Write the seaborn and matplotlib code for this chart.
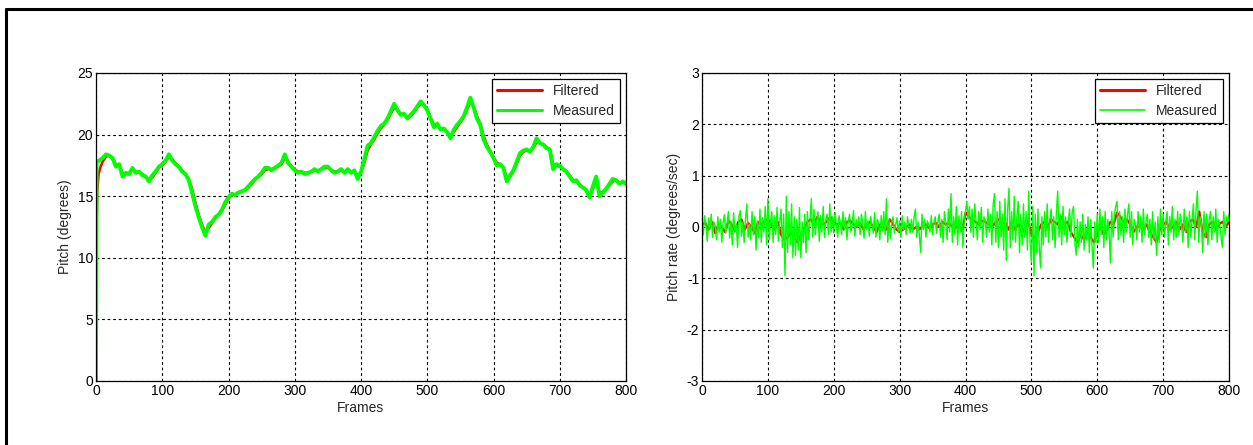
import numpy as np
import matplotlib
matplotlib.use("Agg")
import matplotlib.pyplot as plt
from matplotlib.lines import Line2D
import seaborn as sns

# ---------------- data ----------------
# Pitch (degrees)
pitch_meas_head_frames = [0, 1]
pitch_meas_head = [0.0, 17.8]
pitch_step_frames = np.arange(5, 801, 5)
pitch_measured = [
    17.9, 18.1, 18.4, 18.3, 18.1, 17.4, 17.6, 16.6, 16.9, 16.8, 17.3, 16.9, 17.0, 16.7, 16.6, 16.2, 16.7, 17.0, 17.4,
    17.6, 17.9, 18.4, 17.9, 17.6, 17.4, 17.0, 16.8, 16.3, 15.3, 14.2, 13.3, 12.5, 11.8, 12.7, 12.9, 13.3, 13.5, 13.9, 14.5,
    14.9, 15.2, 15.1, 15.3, 15.4, 15.5, 15.8, 16.1, 16.4, 16.6, 16.9, 17.3, 17.3, 17.1, 17.3, 17.5, 17.7, 18.4, 17.7, 17.4,
    17.1, 16.9, 17.0, 16.8, 16.9, 17.0, 17.2, 17.0, 17.2, 17.4, 17.4, 17.1, 16.9, 17.0, 17.2, 16.9, 17.2, 16.9, 17.1, 16.4,
    17.0, 18.0, 19.1, 19.3, 19.8, 20.3, 20.7, 20.9, 21.3, 21.9, 22.5, 22.0, 21.6, 21.7, 21.3, 21.6, 21.9, 22.3, 22.7, 22.4,
    22.0, 21.3, 20.6, 20.9, 20.4, 20.5, 20.2, 19.7, 20.4, 20.8, 21.1, 21.5, 22.2, 23.0, 22.2, 21.3, 20.8, 19.6, 19.0, 18.6,
    18.1, 17.5, 17.6, 17.3, 16.2, 16.7, 17.1, 17.8, 18.5, 18.7, 18.8, 18.6, 19.0, 19.7, 19.3, 19.2, 18.9, 18.8, 17.2, 17.6,
    17.5, 17.2, 17.0, 16.6, 16.2, 16.3, 15.9, 15.7, 15.5, 14.9, 15.8, 16.6, 15.0, 15.3, 15.6, 16.0, 16.4, 16.3, 16.0, 16.2,
    16.0,
]
pitch_filt_head_frames = [0, 1, 2, 4, 7, 10]
pitch_filt_head = [9.2, 13.0, 15.5, 16.8, 17.4, 17.8]
pitch_filt_frames = np.arange(15, 801, 5)
pitch_filtered = [
    18.2, 18.3, 18.1, 17.6, 17.4, 16.9, 16.8, 16.8, 17.1, 17.0, 16.9, 16.8, 16.6, 16.3, 16.5, 16.9, 17.3,
    17.5, 17.8, 18.2, 18.0, 17.7, 17.4, 17.1, 16.8, 16.4, 15.6, 14.5, 13.5, 12.7, 12.1, 12.4, 12.8, 13.2, 13.5, 13.8, 14.3,
    14.8, 15.1, 15.1, 15.3, 15.4, 15.5, 15.7, 16.0, 16.3, 16.6, 16.8, 17.1, 17.2, 17.2, 17.3, 17.4, 17.6, 18.1, 17.8, 17.4,
    17.2, 17.0, 17.0, 16.9, 16.9, 17.0, 17.1, 17.1, 17.2, 17.3, 17.3, 17.1, 17.0, 17.0, 17.1, 17.0, 17.1, 17.0, 17.0, 16.7,
    16.9, 17.7, 18.7, 19.2, 19.6, 20.1, 20.5, 20.8, 21.2, 21.7, 22.2, 22.0, 21.7, 21.6, 21.4, 21.5, 21.8, 22.2, 22.5, 22.4,
    22.0, 21.4, 20.8, 20.8, 20.5, 20.4, 20.2, 19.9, 20.2, 20.6, 21.0, 21.4, 22.0, 22.7, 22.3, 21.5, 20.9, 19.9, 19.2, 18.7,
    18.2, 17.7, 17.6, 17.3, 16.5, 16.6, 17.0, 17.6, 18.3, 18.6, 18.7, 18.7, 18.9, 19.4, 19.3, 19.2, 19.0, 18.8, 17.6, 17.5,
    17.4, 17.2, 17.0, 16.7, 16.3, 16.2, 15.9, 15.7, 15.5, 15.1, 15.6, 16.3, 15.3, 15.3, 15.6, 15.9, 16.2, 16.3, 16.1, 16.1,
    16.0,
]

# Pitch rate (degrees/sec)
rate_meas_frames = np.arange(0, 801, 2)
rate_measured = [
    0.12, -0.15, 0.22, 0.05, -0.28, 0.18, -0.05, 0.25, -0.2, 0.1, 0.02, -0.25, 0.2, -0.1, 0.15, -0.3, 0.08, 0.24, -0.12, 0.05,
    0.3, -0.22, 0.12, -0.35, 0.28, -0.1, 0.05, -0.4, 0.2, 0.32, -0.18, 0.1, -0.3, 0.15, 0.45, -0.2, 0.05, -0.25, 0.3, -0.15,
    0.2, -0.45, 0.12, -0.2, 0.35, -0.3, 0.18, -0.1, 0.4, -0.35, 0.55, -0.25, 0.1, 0.3, -0.3, 0.22, -0.15, 0.38, -0.28, 0.1,
    0.35, -0.4, 0.25, -0.95, 0.6, -0.5, 0.3, -0.35, 0.45, -0.6, 0.2, -0.55, 0.15, -0.45, 0.38, -0.6, 0.1, -0.3, 0.25, -0.5,
    0.3, -0.25, 0.12, 0.55, -0.2, 0.35, -0.15, 0.1, 0.3, -0.28, 0.22, -0.1, 0.4, -0.2, 0.15, 0.25, -0.15, 0.45, -0.1, 0.2,
    -0.12, 0.28, 0.05, -0.2, 0.22, 0.1, -0.15, 0.3, -0.05, 0.18, -0.25, 0.12, 0.25, -0.1, 0.05, 0.32, -0.18, 0.15, 0.0, 0.2,
    -0.15, 0.25, 0.08, -0.22, 0.3, -0.05, 0.12, -0.18, 0.2, 0.05, -0.12, 0.28, -0.2, 0.15, 0.1, -0.25, 0.22, -0.08, 0.3, -0.15,
    0.55, -0.3, 0.15, -0.22, 0.1, 0.2, -0.12, 0.05, 0.18, -0.1, 0.12, -0.2, 0.22, -0.05, 0.1, -0.15, 0.2, 0.02, -0.12, 0.15,
    -0.1, 0.2, 0.35, -0.2, 0.1, -0.15, -0.5, 0.25, -0.05, 0.15, -0.2, 0.12, 0.05, -0.1, 0.22, -0.15, 0.08, 0.2, -0.12, 0.1,
    0.25, -0.2, 0.15, -0.3, 0.3, 0.1, -0.25, 0.35, -0.1, 0.65, -0.3, 0.2, -0.15, 0.4, -0.35, 0.22, -0.1, 0.3, -0.4, 0.15,
    0.3, 0.5, 0.15, 0.4, -0.1, 0.35, -0.2, 0.45, 0.1, -0.25, 0.3, -0.05, 0.38, -0.3, 0.2, 0.12, -0.2, 0.35, -0.1, 0.25,
    -0.35, 0.45, 0.65, -0.3, 0.3, -0.4, 0.5, -0.2, 0.25, -0.45, 0.55, -0.65, 0.35, 0.75, -0.4, 0.3, -0.25, 0.6, -0.3, 0.2,
    0.5, -0.5, 0.25, -0.35, 0.45, -0.2, 0.3, -0.45, 0.7, -0.3, -0.7, 0.4, -0.95, 0.25, -0.5, 0.35, -0.4, -0.8, 0.2, -0.35,
    0.3, -0.2, 0.45, -0.3, 0.15, 0.35, -0.25, 0.2, -0.4, 0.3, 0.7, -0.2, 0.25, -0.35, 0.4, -0.15, 0.2, -0.3, 0.1, 0.35,
    -0.2, 0.3, 0.4, -0.3, -0.55, 0.15, -0.4, 0.1, -0.3, 0.25, -0.45, 0.05, -0.25, 0.2, -0.5, 0.15, -0.35, -0.8, 0.1, -0.3,
    0.25, -0.3, 0.35, -0.15, 0.2, -0.4, 0.3, -0.25, 0.15, -0.1, -0.7, 0.3, -0.2, 0.25, 0.4, 0.5, -0.25, 0.3, -0.15, 0.2,
    -0.3, 0.35, -0.1, 0.25, 0.45, -0.2, 0.3, -0.35, 0.15, 0.05, -0.25, 0.3, -0.1, 0.2, -0.3, 0.35, -0.15, 0.1, 0.25, -0.2,
    0.15, -0.35, 0.3, -0.25, 0.1, -0.55, 0.2, -0.3, 0.35, -0.15, 0.25, -0.2, 0.1, 0.3, -0.35, 0.2, -0.1, 0.4, -0.25, 0.15,
    -0.2, 0.3, -0.15, 0.25, 0.05, -0.3, 0.35, -0.1, 0.2, -0.4, 0.3, -0.2, 0.15, 0.45, -0.25, 0.35, 0.7, -0.3, 0.2, 0.1,
    -0.5, 0.3, -0.2, 0.25, -0.35, 0.15, 0.3, -0.25, 0.2, -0.1, 0.35, -0.3, 0.15, 0.05, -0.2, -0.4, 0.3, -0.15, 0.2, 0.1,
    0.25,
]
rate_filt_frames = np.arange(0, 801, 5)
rate_filtered = [
    0.05, 0.08, -0.05, 0.1, -0.12, 0.05, 0.0, -0.1, 0.12, 0.05, -0.08, 0.1, 0.15, -0.05, 0.08, 0.0, -0.12, 0.1, 0.05, 0.12,
    0.15, 0.05, -0.05, 0.1, -0.15, -0.25, -0.2, -0.1, -0.2, -0.3, -0.15, -0.05, 0.1, 0.15, 0.05, 0.2, 0.1, 0.05, 0.12, 0.2,
    0.1, 0.05, 0.08, -0.05, 0.1, 0.12, 0.05, 0.0, 0.08, -0.05, 0.05, 0.1, 0.0, -0.1, 0.05, 0.0, -0.05, 0.15, 0.05, -0.05,
    -0.1, -0.05, 0.0, 0.05, -0.05, 0.0, -0.05, 0.02, 0.05, -0.02, 0.05, 0.08, 0.0, 0.1, 0.05, 0.08, 0.0, -0.02, 0.05, -0.08,
    0.28, 0.2, 0.15, 0.1, 0.05, 0.12, 0.1, 0.05, 0.0, 0.08, 0.15, 0.05, 0.1, -0.05, 0.1, -0.05, 0.05, 0.0, -0.1, 0.12,
    -0.15, -0.2, -0.1, 0.05, 0.1, 0.0, 0.15, 0.1, 0.05, 0.2, 0.05, 0.1, -0.1, -0.2, -0.3, -0.15, -0.25, -0.1, -0.2, -0.3,
    -0.1, 0.0, -0.15, -0.05, 0.1, 0.05, 0.28, 0.2, 0.1, 0.15, 0.05, -0.1, 0.0, 0.08, -0.05, 0.05, -0.1, -0.2, -0.3, -0.05,
    0.05, 0.1, -0.05, 0.0, 0.1, -0.05, 0.05, -0.1, 0.1, 0.15, 0.0, 0.3, -0.1, -0.2, 0.05, 0.1, -0.05, 0.05, 0.1, 0.0,
    0.1,
]

x_ticks = [0, 100, 200, 300, 400, 500, 600, 700, 800]
pitch_ticks = [0, 5, 10, 15, 20, 25]
rate_ticks = [-3, -2, -1, 0, 1, 2, 3]

# ---------------- style ----------------
sns.set_style("white")
plt.rcParams['font.family'] = ['Liberation Sans', 'DejaVu Sans']
plt.rcParams['axes.unicode_minus'] = False

RED = "#ff0000"
GREEN = "#00ff00"
FS = 10

fig = plt.figure(figsize=(12.53, 4.45), dpi=100)
W, H = 1253, 445
ax1 = fig.add_axes([96 / W, (H - 381) / H, (626 - 96) / W, (381 - 73) / H])
ax2 = fig.add_axes([702 / W, (H - 381) / H, (1229 - 702) / W, (381 - 73) / H])

# Left: pitch
pf_x = np.concatenate([pitch_filt_head_frames, pitch_filt_frames])
pf_y = np.concatenate([pitch_filt_head, pitch_filtered])
pm_x = np.concatenate([pitch_meas_head_frames, pitch_step_frames])
pm_y = np.concatenate([pitch_meas_head, pitch_measured])
sns.lineplot(x=pf_x, y=pf_y, ax=ax1, color=RED, lw=1.8, label="Filtered", sort=False, estimator=None)
sns.lineplot(x=pm_x, y=pm_y, ax=ax1, color=GREEN, lw=2.8, label="Measured", sort=False, estimator=None)

# Right: pitch rate
sns.lineplot(x=rate_filt_frames, y=rate_filtered, ax=ax2, color=RED, lw=1.6, label="Filtered", sort=False, estimator=None)
sns.lineplot(x=rate_meas_frames, y=rate_measured, ax=ax2, color=GREEN, lw=1.0, label="Measured", sort=False, estimator=None)

legend_lw = {ax1: [2.2, 2.2], ax2: [2.2, 1.2]}
for ax, yt, ylab in [(ax1, pitch_ticks, "Pitch (degrees)"), (ax2, rate_ticks, "Pitch rate (degrees/sec)")]:
    ax.set_xlim(0, 800)
    ax.set_ylim(yt[0], yt[-1])
    ax.set_xticks(x_ticks)
    ax.set_yticks(yt)
    ax.tick_params(axis="both", labelsize=FS, direction="in", length=3, pad=2, colors="black")
    ax.grid(True, color="black", linestyle=(0, (2.5, 2.5)), lw=0.8)
    for s in ax.spines.values():
        s.set_visible(True)
        s.set_color("black")
        s.set_linewidth(0.9)
    ax.set_xlabel("Frames", fontsize=FS, labelpad=2)
    ax.set_ylabel(ylab, fontsize=FS, labelpad=4)
    leg = ax.legend(loc="upper right", fontsize=FS, fancybox=False, framealpha=1,
                    edgecolor="black", handlelength=3.2, borderpad=0.4, labelspacing=0.4,
                    borderaxespad=0.4)
    leg.get_frame().set_linewidth(0.9)
    for lh, w in zip(leg.get_lines(), legend_lw[ax]):
        lh.set_linewidth(w)

# outer frame (left and top edges visible)
fig.add_artist(Line2D([6 / W, 6 / W], [0, 1 - 9 / H], transform=fig.transFigure, color="black", lw=2.2))
fig.add_artist(Line2D([6 / W, 1.0], [1 - 9 / H, 1 - 9 / H], transform=fig.transFigure, color="black", lw=2.2))

fig.savefig("out.png", dpi=100, facecolor="white")
